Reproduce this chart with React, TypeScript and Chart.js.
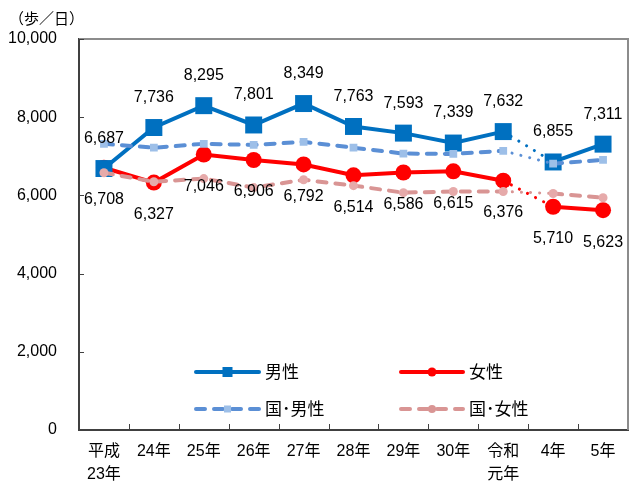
import React, { useEffect, useRef } from "react";
import { Chart, registerables } from "chart.js";

Chart.register(...registerables);

const categories: (string | string[])[] = [
  ["平成", "23年"], "24年", "25年", "26年", "27年", "28年", "29年", "30年", ["令和", "元年"], "4年", "5年",
];
const male = [6687, 7736, 8295, 7801, 8349, 7763, 7593, 7339, 7632, 6855, 7311];
const female = [6708, 6327, 7046, 6906, 6792, 6514, 6586, 6615, 6376, 5710, 5623];
const nationalMale = [7320, 7220, 7320, 7290, 7370, 7220, 7070, 7060, 7140, 6810, 6910];
const nationalFemale = [6580, 6350, 6430, 6200, 6400, 6250, 6070, 6100, 6100, 6050, 5940];
const yMin = 0;
const yMax = 10000;
const yStep = 2000;
const unitLabel = "（歩／日）";
const seriesNames = ["男性", "女性", "国･男性", "国･女性"];

const FONT = '"Liberation Sans", "Noto Sans CJK JP", sans-serif';
const MALE_C = "#0070c0";
const FEMALE_C = "#ff0000";
const NMALE_C = "#5b8fd5";
const NMALE_P = "#9dbfe8";
const NFEMALE_C = "#d99594";
const NFEMALE_P = "#e6aaaa";
const GAP_INDEX = 8;

const fmt = (v: number) => v.toLocaleString("en-US");

const dotted = (w: number) => ({
  borderDash: (ctx: any) => (ctx.p0DataIndex === GAP_INDEX ? [0.1, 9] : undefined),
  borderWidth: (ctx: any) => (ctx.p0DataIndex === GAP_INDEX ? 3 : w),
});

function drawLegendItem(
  ctx: CanvasRenderingContext2D,
  x1: number, x2: number, y: number,
  color: string, dash: number[], marker: "rect" | "circle", markerColor: string, markerSize: number,
  text: string, tx: number
) {
  ctx.save();
  ctx.strokeStyle = color;
  ctx.lineWidth = 4;
  ctx.lineCap = "round";
  ctx.setLineDash(dash);
  ctx.beginPath();
  ctx.moveTo(x1, y);
  ctx.lineTo(x2, y);
  ctx.stroke();
  ctx.setLineDash([]);
  ctx.fillStyle = markerColor;
  const mx = (x1 + x2) / 2;
  if (marker === "rect") {
    ctx.fillRect(mx - markerSize / 2, y - markerSize / 2, markerSize, markerSize);
  } else {
    ctx.beginPath();
    ctx.arc(mx, y, markerSize / 2, 0, Math.PI * 2);
    ctx.fill();
  }
  ctx.fillStyle = "#000";
  ctx.font = `17px ${FONT}`;
  ctx.textAlign = "left";
  ctx.textBaseline = "middle";
  ctx.fillText(text, tx, y + 1);
  ctx.restore();
}

const overlay = {
  id: "overlay",
  afterDraw(chart: any) {
    const ctx: CanvasRenderingContext2D = chart.ctx;
    const a = chart.chartArea;
    ctx.save();
    ctx.strokeStyle = "#8c8c8c";
    ctx.lineWidth = 2;
    ctx.beginPath();
    ctx.moveTo(a.left, a.top);
    ctx.lineTo(a.right, a.top);
    ctx.lineTo(a.right, a.bottom);
    ctx.stroke();
    ctx.strokeStyle = "#404040";
    ctx.lineWidth = 1;
    const ys = chart.scales.y;
    for (let v = yMin; v <= yMax; v += yStep) {
      const py = Math.round(ys.getPixelForValue(v)) + 0.5;
      ctx.beginPath();
      ctx.moveTo(a.left, py);
      ctx.lineTo(a.left + 5, py);
      ctx.stroke();
    }
    const n = categories.length;
    const w = (a.right - a.left) / n;
    for (let i = 1; i < n; i++) {
      const px = Math.round(a.left + i * w) + 0.5;
      ctx.beginPath();
      ctx.moveTo(px, a.bottom);
      ctx.lineTo(px, a.bottom - 6);
      ctx.stroke();
    }
    ctx.fillStyle = "#000";
    ctx.font = `15px ${FONT}`;
    ctx.textAlign = "left";
    ctx.textBaseline = "middle";
    ctx.fillText(unitLabel, 9, 20);
    ctx.font = `16px ${FONT}`;
    ctx.textAlign = "center";
    const mMeta = chart.getDatasetMeta(0);
    const fMeta = chart.getDatasetMeta(1);
    mMeta.data.forEach((pt: any, i: number) => {
      ctx.fillText(fmt(male[i]), pt.x, pt.y - 30);
    });
    fMeta.data.forEach((pt: any, i: number) => {
      ctx.fillText(fmt(female[i]), pt.x, pt.y + 32);
    });
    ctx.restore();
    drawLegendItem(ctx, 196, 259, 372, MALE_C, [], "rect", MALE_C, 10, seriesNames[0], 265);
    drawLegendItem(ctx, 401, 463, 372, FEMALE_C, [], "circle", FEMALE_C, 9, seriesNames[1], 469);
    drawLegendItem(ctx, 196, 259, 409, NMALE_C, [9, 9], "rect", NMALE_P, 7, seriesNames[2], 265);
    drawLegendItem(ctx, 401, 463, 409, NFEMALE_C, [9, 9], "circle", NFEMALE_C, 8, seriesNames[3], 469);
  },
};

export default function App() {
  const ref = useRef<HTMLCanvasElement | null>(null);
  useEffect(() => {
    if (!ref.current) return;
    const natSeg = {
      borderDash: (ctx: any) => (ctx.p0DataIndex === GAP_INDEX ? [0.1, 9] : undefined),
      borderWidth: (ctx: any) => (ctx.p0DataIndex === GAP_INDEX ? 3 : 4),
    };
    const chart = new Chart(ref.current, {
      type: "line",
      data: {
        labels: categories as any,
        datasets: [
          {
            label: seriesNames[0], data: male, borderColor: MALE_C, backgroundColor: MALE_C,
            borderWidth: 4, pointStyle: "rect", pointRadius: 12, pointBorderWidth: 0,
            pointBackgroundColor: MALE_C, borderCapStyle: "round", segment: dotted(4) as any, order: 2,
          },
          {
            label: seriesNames[1], data: female, borderColor: FEMALE_C, backgroundColor: FEMALE_C,
            borderWidth: 4, pointStyle: "circle", pointRadius: 8, pointBorderWidth: 0,
            pointBackgroundColor: FEMALE_C, borderCapStyle: "round", segment: dotted(4) as any, order: 2,
          },
          {
            label: seriesNames[2], data: nationalMale, borderColor: NMALE_C, backgroundColor: NMALE_P,
            borderWidth: 4, borderDash: [9, 9], borderCapStyle: "round", pointStyle: "rect",
            pointRadius: 5.5, pointBorderWidth: 0, pointBackgroundColor: NMALE_P,
            segment: natSeg as any, order: 1,
          },
          {
            label: seriesNames[3], data: nationalFemale, borderColor: NFEMALE_C, backgroundColor: NFEMALE_P,
            borderWidth: 4, borderDash: [9, 9], borderCapStyle: "round", pointStyle: "circle",
            pointRadius: 4.5, pointBorderWidth: 0, pointBackgroundColor: NFEMALE_P,
            segment: natSeg as any, order: 1,
          },
        ],
      },
      options: {
        responsive: true,
        maintainAspectRatio: false,
        animation: false,
        layout: { padding: { top: 39, right: 3, left: 0, bottom: 0 } },
        plugins: { legend: { display: false }, tooltip: { enabled: false } },
        scales: {
          x: {
            offset: true,
            grid: { display: false, drawTicks: false },
            border: { display: true, color: "#404040", width: 2 },
            ticks: {
              padding: 10, color: "#000", autoSkip: false, maxRotation: 0,
              font: { family: FONT, size: 16, lineHeight: 1.45 },
            },
            afterFit: (s: any) => { s.height = 58; },
          },
          y: {
            min: yMin, max: yMax,
            grid: { display: false, drawTicks: false },
            border: { display: true, color: "#404040", width: 2 },
            ticks: {
              stepSize: yStep, padding: 22, color: "#000",
              font: { family: FONT, size: 16 },
              callback: (v: any) => fmt(Number(v)),
            },
            afterFit: (s: any) => { s.width = 79; },
          },
        },
      },
      plugins: [overlay],
    });
    return () => chart.destroy();
  }, []);
  return (
    <div style={{ position: "absolute", left: 0, top: 0, width: 640, height: 488, background: "#fff" }}>
      <canvas ref={ref} />
    </div>
  );
}
